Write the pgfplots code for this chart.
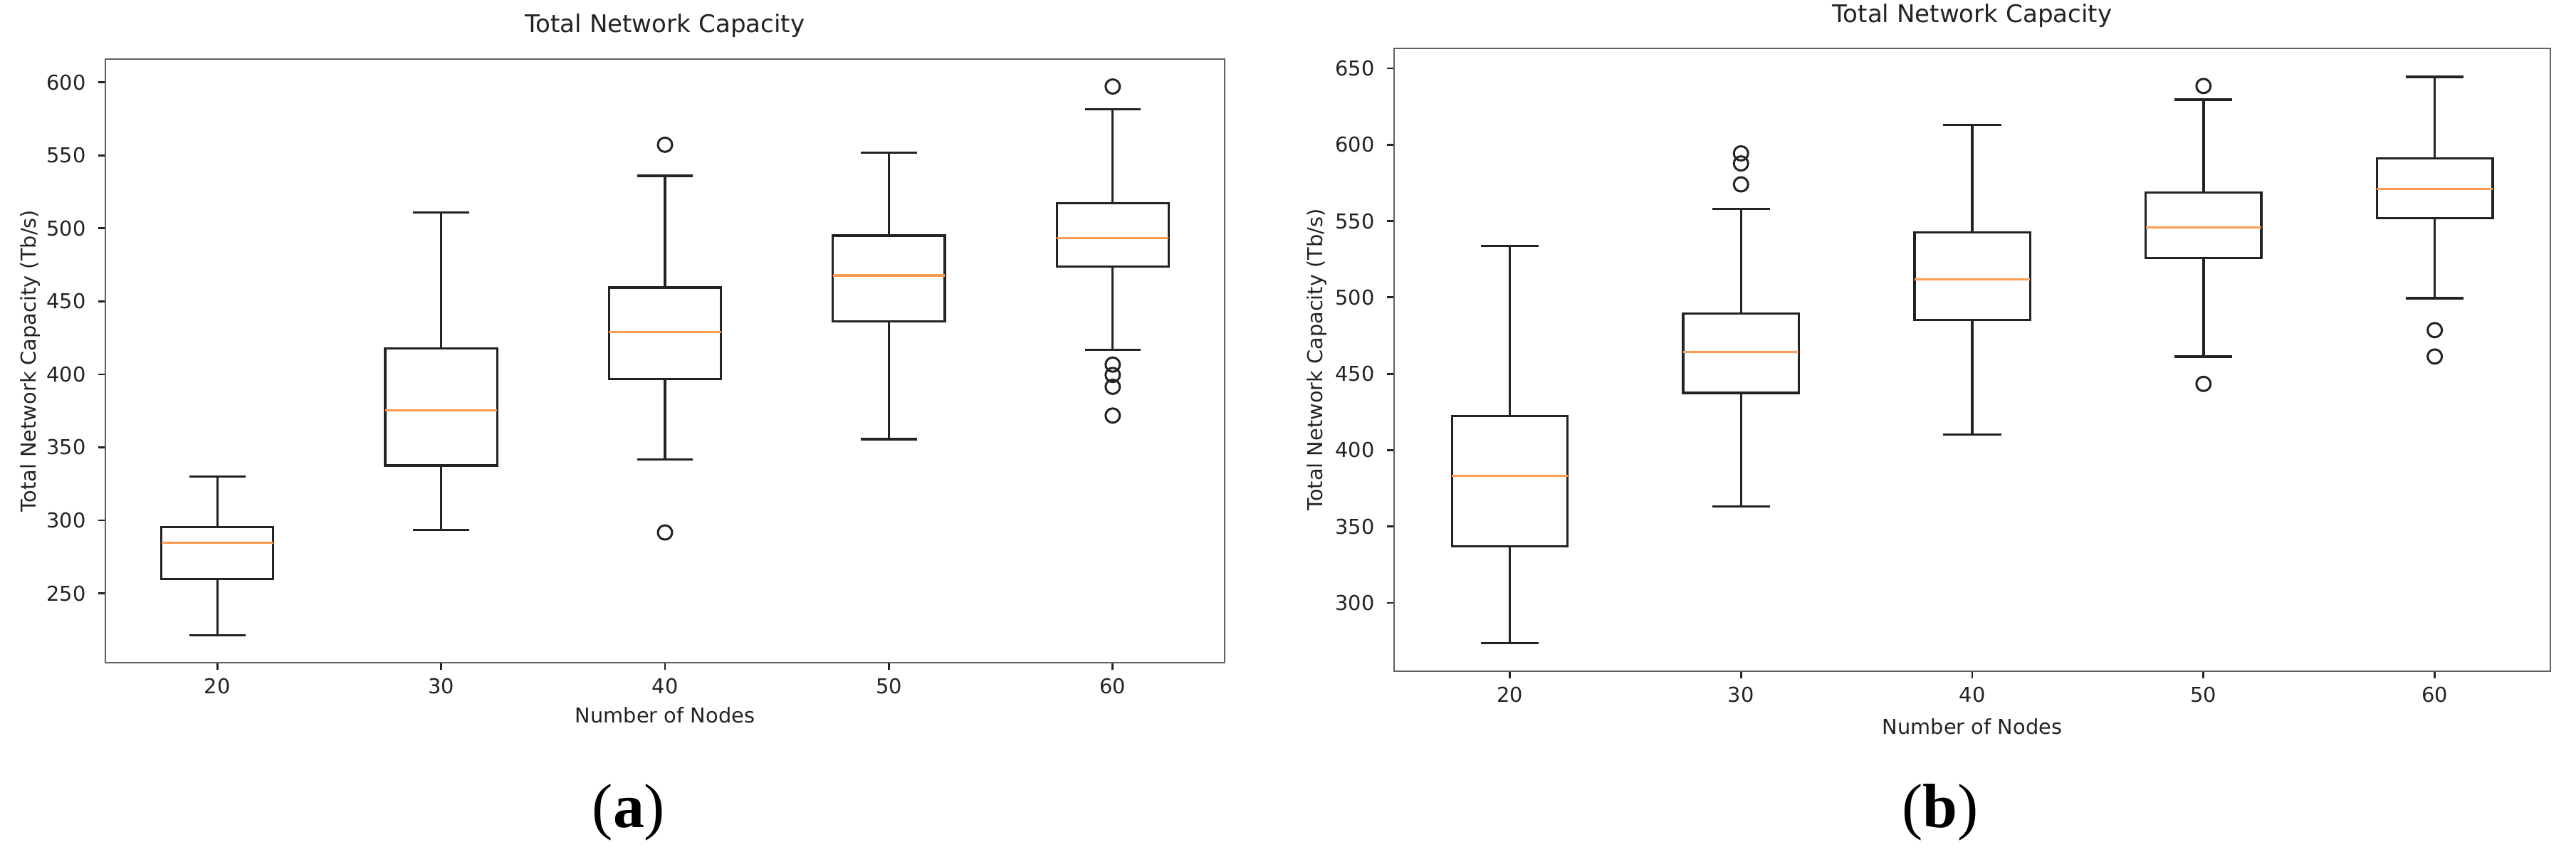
\documentclass[border=0pt]{standalone}
\usepackage{pgfplots}
\pgfplotsset{compat=1.18}
\usepackage{fontspec}
\setmainfont{DejaVu Sans}
\newfontfamily\capfont{Liberation Serif}

\definecolor{mplorange}{RGB}{255,155,80}
\definecolor{ink}{RGB}{35,35,35}

\pgfplotsset{
  netcap/.style={
    scale only axis,
    anchor=south west,
    xmin=0.5, xmax=5.5,
    xtick={1,2,3,4,5},
    xticklabels={20,30,40,50,60},
    tick align=outside,
    xtick pos=bottom, ytick pos=left,
    major tick length=1mm,
    tick style={ink, line width=0.8pt},
    axis line style={black!62, line width=0.8pt},
    ticklabel style={font=\fontsize{8.2}{9}\selectfont, text=ink},
    yticklabel style={xshift=-0.5mm},
    /pgf/number format/assume math mode=true,
    title={Total Network Capacity},
    xlabel={Number of Nodes},
    ylabel={Total Network Capacity (Tb/s)},
    title style={font=\fontsize{9.7}{11}\selectfont, text=ink, anchor=base},
    xlabel style={font=\fontsize{8.2}{9}\selectfont, text=ink, anchor=base},
    ylabel style={font=\fontsize{8.2}{9}\selectfont, text=ink, anchor=center},
  },
  bline/.style={draw=ink, line width=0.95pt, no marks, line join=miter, forget plot},
  mline/.style={draw=mplorange, line width=0.95pt, no marks, forget plot},
  flier/.style={only marks, mark=o, mark size=1mm, mark options={draw=ink, line width=0.85pt}, forget plot},
}

% one box: position, lower whisker, Q1, median, Q3, upper whisker
\newcommand{\nbox}[6]{%
  \pgfmathsetmacro\bxL{#1-0.25}\pgfmathsetmacro\bxR{#1+0.25}%
  \pgfmathsetmacro\cpL{#1-0.125}\pgfmathsetmacro\cpR{#1+0.125}%
  \addplot[bline] coordinates {(#1,#3) (#1,#2)};
  \addplot[bline] coordinates {(#1,#5) (#1,#6)};
  \addplot[bline] coordinates {(\cpL,#2) (\cpR,#2)};
  \addplot[bline] coordinates {(\cpL,#6) (\cpR,#6)};
  \addplot[bline] coordinates {(\bxL,#3) (\bxR,#3) (\bxR,#5) (\bxL,#5) (\bxL,#3) (\bxR,#3)};
  \addplot[mline] coordinates {(\bxL,#4) (\bxR,#4)};
}

\begin{document}
\begin{tikzpicture}
\path[use as bounding box] (0,0) rectangle (361.8mm,120.3mm);

% (a)
\begin{axis}[
  netcap,
  at={(14.8mm,27.2mm)},
  width=157.2mm, height=84.8mm,
  ymin=202.5, ymax=616,
  ytick={250,300,350,400,450,500,550,600},
  title style={at={(axis description cs:0.5,1.0196)}},
  xlabel style={at={(axis description cs:0.5,-0.1002)}},
  ylabel style={at={(axis description cs:-0.0668,0.5)}},
]
\nbox{1}{221.3}{259.9}{284.6}{295.5}{330.1}
\nbox{2}{293.6}{337.5}{375.3}{417.7}{510.9}
\nbox{3}{341.6}{396.8}{428.9}{459.4}{536.1}
\nbox{4}{355.6}{436.4}{467.8}{495.0}{552.0}
\nbox{5}{416.7}{473.8}{493.4}{517.4}{581.6}
\addplot[flier] coordinates {(3,557.3) (3,291.7)
  (5,597.2) (5,406.7) (5,399.6) (5,391.5) (5,371.8)};
\end{axis}

% (b)
\begin{axis}[
  netcap,
  at={(195.8mm,26.0mm)},
  width=162.4mm, height=87.5mm,
  ymin=255.3, ymax=663,
  ytick={300,350,400,450,500,550,600,650},
  title style={at={(axis description cs:0.5,1.0178)}},
  xlabel style={at={(axis description cs:0.5,-0.1006)}},
  ylabel style={at={(axis description cs:-0.0671,0.5)}},
]
\nbox{1}{273.8}{337.0}{383.2}{422.2}{533.7}
\nbox{2}{363.2}{437.5}{464.3}{489.3}{557.9}
\nbox{3}{410.3}{485.4}{511.7}{542.7}{613.0}
\nbox{4}{461.3}{525.7}{545.7}{568.6}{629.4}
\nbox{5}{499.5}{551.9}{571.0}{591.0}{644.3}
\addplot[flier] coordinates {(2,594.3) (2,587.7) (2,574.0)
  (4,638.4) (4,443.4) (5,478.6) (5,461.3)};
\end{axis}

\node[font=\capfont\fontsize{25}{30}\selectfont] at (88.3mm,6.2mm) {(\textbf{a})};
\node[font=\capfont\fontsize{25}{30}\selectfont] at (272.5mm,6.2mm) {(\textbf{b})};
\end{tikzpicture}
\end{document}
